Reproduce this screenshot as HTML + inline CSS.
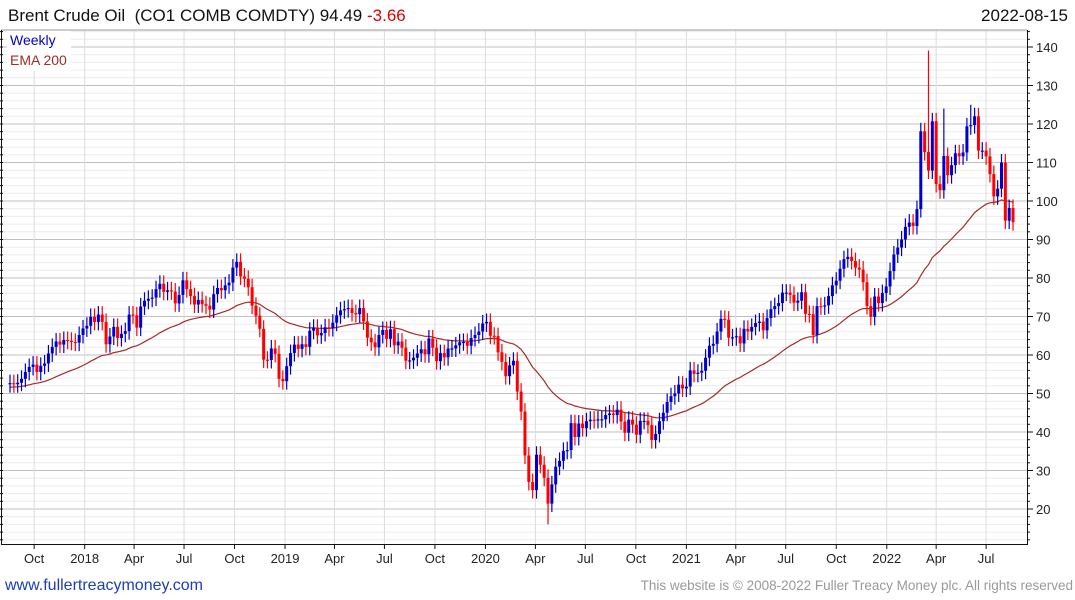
<!DOCTYPE html>
<html><head><meta charset="utf-8"><style>
body{margin:0;background:#fff;font-family:"Liberation Sans",sans-serif}
svg{display:block}
</style></head><body>
<svg id="c" width="1075" height="600" xmlns="http://www.w3.org/2000/svg">
<text x="8" y="21" font-size="17" fill="#111" xml:space="preserve">Brent Crude Oil  (CO1 COMB COMDTY) 94.49 <tspan fill="#e00000">-3.66</tspan></text>
<text x="1068" y="21" font-size="17" fill="#111" text-anchor="end">2022-08-15</text>
<g id="grid"></g><g id="ema"></g><g id="candles"></g><g id="axes"></g>
<line x1="1" y1="30" x2="1027" y2="30" stroke="#999"/>
<line x1="1.5" y1="30" x2="1.5" y2="545" stroke="#111"/>
<line x1="1" y1="544.5" x2="1028" y2="544.5" stroke="#111"/>
<line x1="1027.5" y1="30" x2="1027.5" y2="545" stroke="#111"/>
<rect x="7" y="31" width="64" height="40" fill="#fff"/>
<text x="10" y="45" font-size="14" fill="#0000cc">Weekly</text>
<text x="10" y="65" font-size="14" fill="#a52a2a">EMA 200</text>
<text x="5" y="590" font-size="16" fill="#1a3fb0">www.fullertreacymoney.com</text>
<text x="1073" y="590" font-size="13.5" fill="#999" text-anchor="end">This website is © 2008-2022 Fuller Treacy Money plc. All rights reserved</text>
</svg>
<script>
const startDate=Date.UTC(2017,7,18);
const closes=[52.7,52.4,52.8,53.8,55.6,56.9,57.5,55.6,57.2,57.8,60.4,62.1,63.5,62.7,63.9,63.7,63.4,63.2,65.2,66.9,
67.6,69.9,68.6,70.5,68.6,62.8,64.8,67.3,64.4,65.5,66.2,70.5,70.3,67.1,72.6,74.1,74.6,74.9,77.1,78.5,76.4,76.8,76.5,73.4,75.6,79.4,77.1,75.3,73.1,74.3,73.2,72.8,71.8,75.8,77.4,76.8,78.1,78.8,82.7,84.2,80.4,79.8,77.6,72.8,70.2,66.8,58.8,58.7,61.7,60.3,53.8,53.2,
57.1,60.5,62.7,61.6,62.8,62.1,66.3,67.1,65.1,65.7,67.2,67.0,68.4,70.3,71.6,71.9,72.2,70.9,70.6,72.2,68.7,64.5,63.3,62.0,65.2,66.5,64.2,66.7,62.5,63.5,61.9,58.5,58.6,59.3,60.4,61.5,60.2,64.3,61.9,58.4,60.5,59.4,61.7,61.7,62.5,63.3,63.4,62.4,64.4,65.2,66.1,68.2,
68.6,65.0,64.9,60.7,58.2,54.5,57.3,58.5,50.5,45.3,33.9,27.0,24.9,34.1,31.5,28.1,21.4,26.4,31.0,32.5,35.1,35.3,42.3,38.7,42.2,41.0,42.8,43.2,43.1,43.3,43.3,44.4,44.8,44.4,45.8,42.7,39.8,43.2,41.9,39.3,42.9,42.9,41.8,37.9,39.5,42.8,45.0,47.8,49.3,50.0,52.3,51.3,
51.8,56.0,55.1,55.4,55.9,59.3,62.4,62.9,66.1,69.4,69.2,64.5,64.6,64.9,63.0,66.8,66.1,67.3,68.3,68.7,66.4,69.6,71.9,72.7,73.5,76.2,76.2,75.6,73.6,74.1,76.3,70.7,70.6,65.2,72.7,72.6,72.9,75.3,78.1,79.3,82.4,84.9,85.5,84.4,82.7,82.2,78.9,72.7,69.9,75.2,73.5,76.1,77.8,
81.8,86.1,87.9,90.0,93.3,94.4,93.5,97.9,118.1,112.7,107.9,120.7,104.4,102.8,111.7,106.7,109.3,112.4,111.6,112.6,119.4,119.7,122.0,113.1,113.1,111.6,107.0,101.2,103.2,110.0,94.9,98.2,94.5];
const wickIdx=[140,239,129,118,236,243,250,253];
const wickHigh=[null,139.1,null,null,null,124,125,null];
const wickLow=[16.0,null,null,null,null,null,null,null];
const yTicks=[20,30,40,50,60,70,80,90,100,110,120,130,140];
const monthLabels=["Oct","2018","Apr","Jul","Oct","2019","Apr","Jul","Oct","2020","Apr","Jul","Oct","2021","Apr","Jul","Oct","2022","Apr","Jul"];
const monthDates=[[2017,9],[2018,0],[2018,3],[2018,6],[2018,9],[2019,0],[2019,3],[2019,6],[2019,9],[2020,0],[2020,3],[2020,6],[2020,9],[2021,0],[2021,3],[2021,6],[2021,9],[2022,0],[2022,3],[2022,6]];
const NS="http://www.w3.org/2000/svg";
const step=3.843, x0=10;
const X=i=>x0+i*step;
const Xd=(y,m)=>x0+((Date.UTC(y,m,1)-startDate)/864e5/7)*step;
const Y=v=>509-(v-20)*3.85;
function mk(tag,attrs,parent){const e=document.createElementNS(NS,tag);for(const k in attrs)e.setAttribute(k,attrs[k]);parent.appendChild(e);return e;}
const grid=document.getElementById('grid'),axes=document.getElementById('axes');
for(let v=12;v<=146;v+=2){const y=Y(v);if(y<31||y>544)continue;
 const l=mk('line',{x1:2,x2:1027,y1:y,y2:y,stroke:v%10===0?'#c0c0c0':'#ececec','stroke-width':1},grid);
 
 
 const t=mk('line',{x1:1027,x2:v%10===0?1033:1030,y1:y,y2:y,stroke:'#111'},axes);
 
 
 const lt=mk('line',{x1:0,x2:3,y1:y,y2:y,stroke:'#111'},axes);
 
 }
yTicks.forEach(v=>{const t=mk('text',{x:1036,y:Y(v)+5,'font-size':13,fill:'#222'},axes);t.textContent=v;
 
 });
monthLabels.forEach((lab,k)=>{const x=Xd(monthDates[k][0],monthDates[k][1]);
 const l=mk('line',{x1:x,x2:x,y1:30,y2:545,stroke:'#dcdcdc'},grid);
 
 
 const tk=mk('line',{x1:x,x2:x,y1:544,y2:549,stroke:'#111'},axes);
 
 
 const t=mk('text',{x:x,y:563,'font-size':13,fill:'#222','text-anchor':'middle'},axes);t.textContent=lab;
 
 });
let ema=51.6,pts=[];const a=2/41;
closes.forEach((c,i)=>{ema=ema+a*(c-ema);pts.push(X(i).toFixed(1)+','+Y(ema).toFixed(1));});
const pl=mk('polyline',{points:pts.join(' '),fill:'none',stroke:'#a52a2a','stroke-width':1.2},document.getElementById('ema'));


const cg=document.getElementById('candles');
closes.forEach((c,i)=>{const o=i?closes[i-1]:52.4;const up=c>=o;const col=up?'#0000cc':'#ff0000';
 let hi=Math.max(o,c)+2.2,lo=Math.min(o,c)-2.2;const w=wickIdx.indexOf(i);
 if(w>=0){if(wickHigh[w]!=null)hi=wickHigh[w];if(wickLow[w]!=null)lo=wickLow[w];}
 const x=X(i);
 const g=mk('g',{},cg);
 
 
 mk('line',{x1:x,x2:x,y1:Y(hi),y2:Y(lo),stroke:col,'stroke-width':1.2},g);
 const t=Y(Math.max(o,c)),b=Y(Math.min(o,c));
 mk('rect',{x:x-1.5,y:t,width:3,height:Math.max(1.2,b-t),fill:col},g);});
</script>
</body></html>
